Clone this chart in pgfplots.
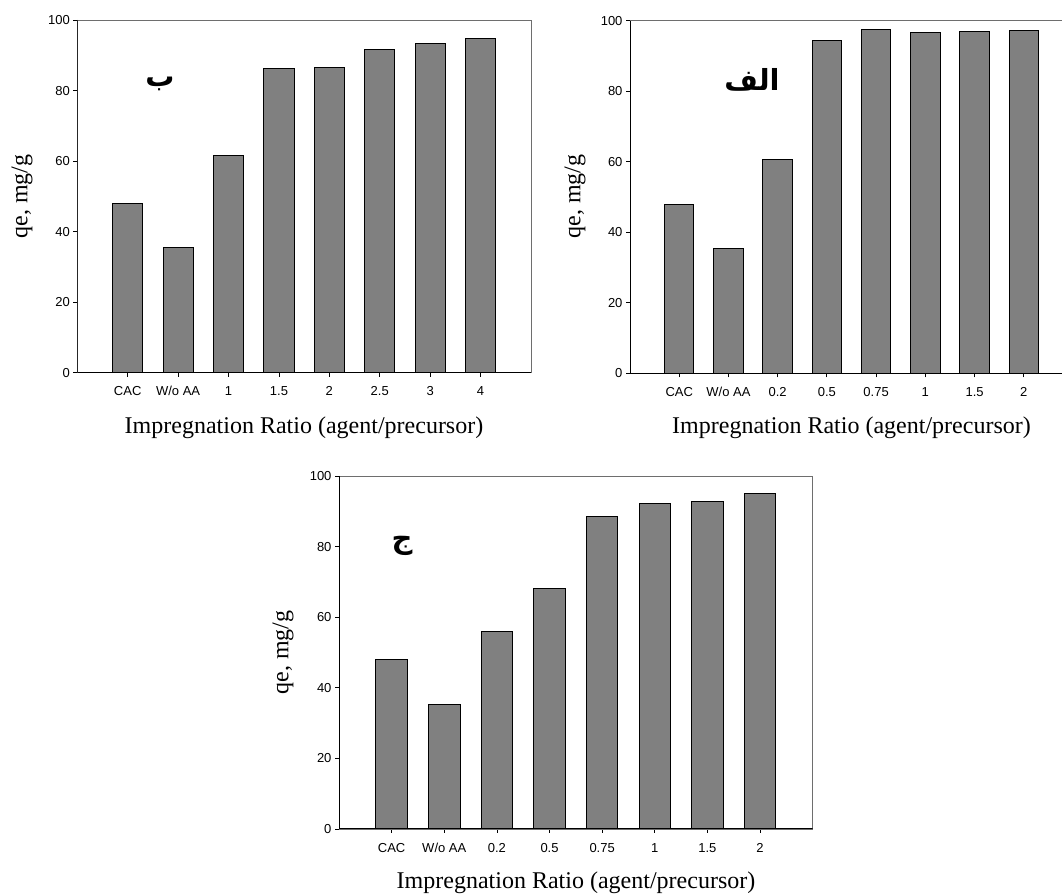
\documentclass[border=0pt]{standalone}
\usepackage{fontspec}
\setmainfont{Liberation Serif}
\newfontfamily\ticksf{Liberation Sans}
\newfontfamily\arabicfont[Script=Arabic]{DejaVu Sans}
\TeXXeTstate=1
\usepackage{pgfplots}
\pgfplotsset{compat=1.18}

\definecolor{barfill}{HTML}{808080}
\definecolor{framegray}{HTML}{6E6E6E}

\pgfplotsset{
  panel/.style={
    scale only axis, anchor=south west,
    ybar, bar width=0.6,
    xmin=-1, xmax=8, ymin=0, ymax=100,
    xtick={0,...,7}, ytick={0,20,...,100},
    tick align=outside, xtick pos=left, ytick pos=left,
    major tick length=4pt,
    tick style={black, line width=0.8pt},
    axis line style={draw=framegray, line width=0.8pt},
    ticklabel style={font=\ticksf\fontsize{13}{15}\selectfont},
    xticklabel style={text height=9.5pt, text depth=3pt, yshift=-6pt},
    /pgf/number format/assume math mode=true,
  },
  bars/.style={fill=barfill, draw=black, line width=1pt},
}
\newcommand{\labfont}{\fontsize{24}{28}\selectfont}
\newcommand{\letterfont}{\arabicfont\bfseries\fontsize{29}{34}\selectfont}

\begin{document}
\begin{tikzpicture}[x=1pt,y=1pt]
\useasboundingbox (0,0) rectangle (1062,896);

% panel b (top left)
\begin{axis}[panel, at={(77.3pt,523.3pt)}, width=453.7pt, height=352.7pt,
  xticklabels={CAC, W/o AA, 1, 1.5, 2, 2.5, 3, 4}]
\addplot[bars] coordinates {(0,48.0) (1,35.4) (2,61.6) (3,86.2) (4,86.5) (5,91.7) (6,93.2) (7,94.8)};
\draw[black, line width=1pt] (rel axis cs:0,1) -- (rel axis cs:0,0) -- (rel axis cs:1,0);
\end{axis}

% panel alef (top right, cut at the right edge)
\begin{axis}[panel, at={(630pt,522.7pt)}, width=443pt, height=352.5pt,
  xticklabels={CAC, W/o AA, 0.2, 0.5, 0.75, 1, 1.5, 2}]
\addplot[bars] coordinates {(0,47.8) (1,35.3) (2,60.6) (3,94.3) (4,97.4) (5,96.8) (6,96.9) (7,97.2)};
\draw[black, line width=1pt] (rel axis cs:0,1) -- (rel axis cs:0,0) -- (rel axis cs:1,0);
\end{axis}

% panel jim (bottom)
\begin{axis}[panel, at={(339pt,67pt)}, width=473.7pt, height=353pt,
  xticklabels={CAC, W/o AA, 0.2, 0.5, 0.75, 1, 1.5, 2}]
\addplot[bars] coordinates {(0,47.9) (1,35.3) (2,55.9) (3,68.1) (4,88.5) (5,92.2) (6,92.9) (7,94.9)};
\draw[black, line width=1pt] (rel axis cs:0,1) -- (rel axis cs:0,0) -- (rel axis cs:1,0);
\end{axis}

% axis titles
\node[font=\labfont] at (304,468) {Impregnation Ratio (agent/precursor)};
\node[font=\labfont] at (851.5,468) {Impregnation Ratio (agent/precursor)};
\node[font=\labfont] at (576,13) {Impregnation Ratio (agent/precursor)};
\node[font=\labfont, rotate=90] at (22,699.5) {qe, mg/g};
\node[font=\labfont, rotate=90] at (575,699.5) {qe, mg/g};
\node[font=\labfont, rotate=90] at (283,243.5) {qe, mg/g};

% panel letters
\node[font=\letterfont] at (160,812) {\beginR ب\endR};
\node[font=\letterfont] at (752,816) {\beginR الف\endR};
\node[font=\letterfont] at (402,350) {\beginR ج\endR};
\end{tikzpicture}
\end{document}
